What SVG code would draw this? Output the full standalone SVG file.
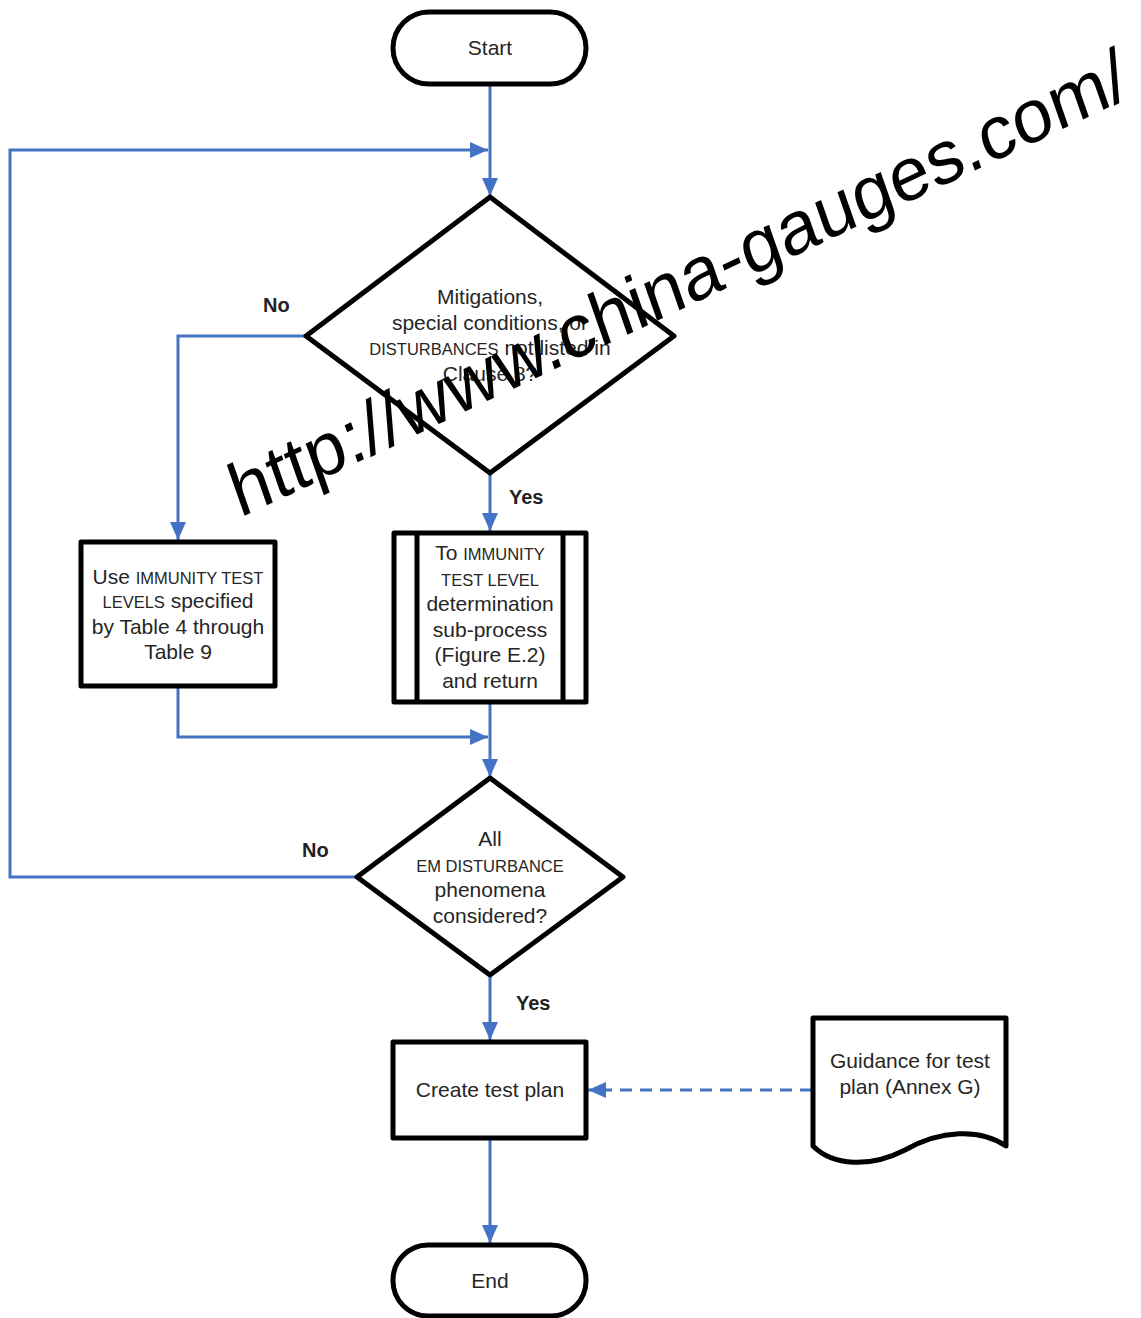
<svg xmlns="http://www.w3.org/2000/svg" width="1141" height="1318" viewBox="0 0 1141 1318">
<style>
.shape{fill:#fff;stroke:#000;stroke-width:5;stroke-linejoin:round}
.ln{fill:none;stroke:#4472C4;stroke-width:3}
.dash{stroke-dasharray:12,8}
.t{font-family:"Liberation Sans",Arial,sans-serif;font-size:21px;fill:#262626;text-anchor:middle}
.sc{font-size:16.5px}
.lbl{font-family:"Liberation Sans",Arial,sans-serif;font-size:20px;font-weight:bold;fill:#222}
.wm{font-family:"Liberation Sans",Arial,sans-serif;font-size:74px;fill:#000}
</style>
<defs>
<marker id="arr" markerUnits="userSpaceOnUse" markerWidth="18" markerHeight="16" refX="18" refY="8" orient="auto">
<path d="M0,0 L18,8 L0,16 z" fill="#4472C4"/>
</marker>
</defs>
<g id="connectors">
<line class="ln" x1="490" y1="86" x2="490" y2="196" marker-end="url(#arr)"/>
<polyline class="ln" points="357,877 10,877 10,150 488,150" marker-end="url(#arr)"/>
<polyline class="ln" points="306,336 178,336 178,540" marker-end="url(#arr)"/>
<line class="ln" x1="490" y1="473" x2="490" y2="531" marker-end="url(#arr)"/>
<polyline class="ln" points="178,687 178,737 488,737" marker-end="url(#arr)"/>
<line class="ln" x1="490" y1="702" x2="490" y2="777" marker-end="url(#arr)"/>
<line class="ln" x1="490" y1="975" x2="490" y2="1040" marker-end="url(#arr)"/>
<line class="ln dash" x1="812" y1="1090" x2="588" y2="1090" marker-end="url(#arr)"/>
<line class="ln" x1="490" y1="1138" x2="490" y2="1243" marker-end="url(#arr)"/>
<text class="lbl" x="263" y="312">No</text>
<text class="lbl" x="509" y="504">Yes</text>
<text class="lbl" x="302" y="857">No</text>
<text class="lbl" x="516" y="1010">Yes</text>
</g>
<g id="start">
<rect class="shape" x="393" y="12" width="193" height="72" rx="36"/>
<text class="t" x="490" y="55">Start</text>
</g>
<g id="decision1">
<polygon class="shape" points="490,197 674,336 490,473 306,336"/>
<text class="t" x="490" y="304">Mitigations,</text>
<text class="t" x="490" y="330">special conditions, or</text>
<text class="t" x="490" y="355"><tspan class="sc">DISTURBANCES</tspan> not listed in</text>
<text class="t" x="490" y="381">Clause 8?</text>
</g>
<g id="box-table">
<rect class="shape" x="81" y="542" width="194" height="144"/>
<text class="t" x="178" y="584">Use <tspan class="sc">IMMUNITY TEST</tspan></text>
<text class="t" x="178" y="608"><tspan class="sc">LEVELS</tspan> specified</text>
<text class="t" x="178" y="634">by Table 4 through</text>
<text class="t" x="178" y="659">Table 9</text>
</g>
<g id="subprocess">
<rect class="shape" x="394" y="533" width="192" height="169"/>
<line x1="417" y1="533" x2="417" y2="702" stroke="#000" stroke-width="5"/>
<line x1="563" y1="533" x2="563" y2="702" stroke="#000" stroke-width="5"/>
<text class="t" x="490" y="560">To <tspan class="sc">IMMUNITY</tspan></text>
<text class="t sc" x="490" y="586">TEST LEVEL</text>
<text class="t" x="490" y="611">determination</text>
<text class="t" x="490" y="637">sub-process</text>
<text class="t" x="490" y="662">(Figure E.2)</text>
<text class="t" x="490" y="688">and return</text>
</g>
<g id="decision2">
<polygon class="shape" points="490,778 623,877 490,975 357,877"/>
<text class="t" x="490" y="846">All</text>
<text class="t sc" x="490" y="872">EM DISTURBANCE</text>
<text class="t" x="490" y="897">phenomena</text>
<text class="t" x="490" y="923">considered?</text>
</g>
<g id="create-plan">
<rect class="shape" x="393" y="1042" width="193" height="96"/>
<text class="t" x="490" y="1097">Create test plan</text>
</g>
<g id="guidance">
<path class="shape" d="M813,1018 H1006 V1146 C980,1128 940,1130 905,1150 C870,1168 833,1166 813,1146 Z"/>
<text class="t" x="910" y="1068">Guidance for test</text>
<text class="t" x="910" y="1094">plan (Annex G)</text>
</g>
<g id="end">
<rect class="shape" x="393" y="1245" width="193" height="71" rx="35"/>
<text class="t" x="490" y="1288">End</text>
</g>
<text class="wm" transform="translate(240,518) rotate(-25.3) skewX(-6)">http://www.china-gauges.com/</text>
</svg>
